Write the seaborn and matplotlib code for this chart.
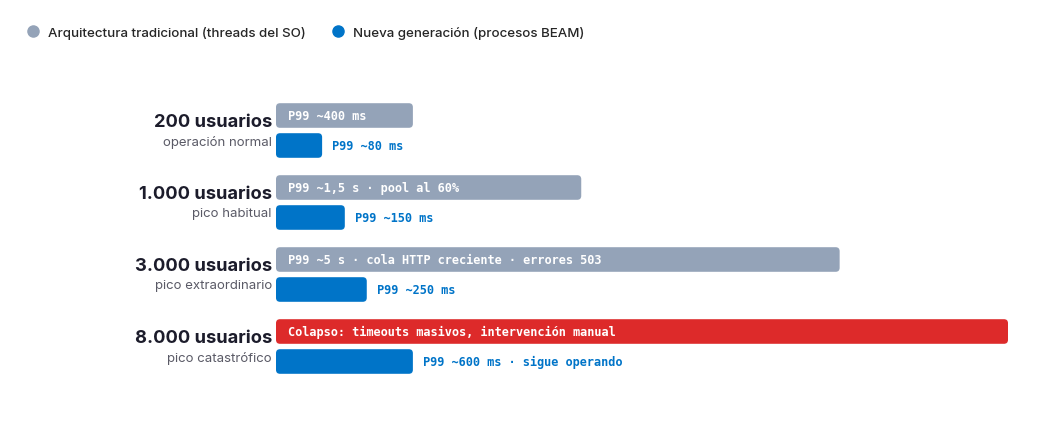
import seaborn as sns
import pandas as pd
import matplotlib.pyplot as plt
from matplotlib.patches import FancyBboxPatch
from matplotlib.lines import Line2D

# datos
escenarios = ["200 usuarios", "1.000 usuarios", "3.000 usuarios", "8.000 usuarios"]
subtitulos = ["operación normal", "pico habitual", "pico extraordinario", "pico catastrófico"]
ancho_tradicional = [18.7, 41.7, 77.0, 100.0]
ancho_beam = [6.3, 9.4, 12.4, 18.7]
etiquetas_tradicional = [
    "P99 ~400 ms",
    "P99 ~1,5 s · pool al 60%",
    "P99 ~5 s · cola HTTP creciente · errores 503",
    "Colapso: timeouts masivos, intervención manual",
]
etiquetas_beam = ["P99 ~80 ms", "P99 ~150 ms", "P99 ~250 ms", "P99 ~600 ms · sigue operando"]
series = ["Arquitectura tradicional (threads del SO)", "Nueva generación (procesos BEAM)"]
colapso = [False, False, False, True]

GRIS = "#94a3b8"
AZUL = "#0074c8"
ROJO = "#dd2a2a"
TEXTO = "#1c1c2b"
SUB = "#5a5a66"

sns.set_theme(style="white")
plt.rcParams['font.family'] = ['Inter', 'DejaVu Sans']

df = pd.DataFrame({
    "escenario": escenarios * 2,
    "ancho": ancho_tradicional + ancho_beam,
    "serie": [series[0]] * 4 + [series[1]] * 4,
})

fig = plt.figure(figsize=(10.58, 4.31), dpi=100)
ax = fig.add_axes([276 / 1058, 47.5 / 431, 732 / 1058, 288 / 431])
sns.barplot(data=df, y="escenario", x="ancho", hue="serie", palette=[GRIS, AZUL],
            orient="h", width=60 / 72, gap=0.18, legend=False, ax=ax, saturation=1,
            order=escenarios, hue_order=series)
ax.set_xlim(0, 100)
ax.set_ylim(3.5, -0.5)
ax.axis("off")

# barras redondeadas
px_x = 732 / 100
px_y = 72
radio = 4 / px_x
for p in list(ax.patches):
    x, y, w, h = p.get_x(), p.get_y(), p.get_width(), p.get_height()
    yc = y + h / 2
    fila = int(round(yc))
    arriba = yc < fila
    color = p.get_facecolor()
    if arriba and colapso[fila]:
        color = ROJO
    p.remove()
    ax.add_patch(FancyBboxPatch((x, y), w, h,
                                boxstyle=f"round,pad=0,rounding_size={radio}",
                                mutation_aspect=px_x / px_y,
                                facecolor=color, edgecolor="none"))
    if arriba:
        ax.annotate(etiquetas_tradicional[fila], xy=(x, yc), xytext=(12, 0),
                    textcoords="offset pixels", va="center", ha="left",
                    color="white", fontsize=8.6, fontweight="bold",
                    family="DejaVu Sans Mono")
    else:
        ax.annotate(etiquetas_beam[fila], xy=(x + w, yc), xytext=(10, 0),
                    textcoords="offset pixels", va="center", ha="left",
                    color=AZUL, fontsize=8.6, fontweight="bold",
                    family="DejaVu Sans Mono")

for i, (t, s) in enumerate(zip(escenarios, subtitulos)):
    ax.annotate(t, xy=(0, i), xytext=(-4, 9), textcoords="offset pixels",
                ha="right", va="center", fontsize=13.2, fontweight="bold",
                color=TEXTO, annotation_clip=False)
    ax.annotate(s, xy=(0, i), xytext=(-4, -11), textcoords="offset pixels",
                ha="right", va="center", fontsize=9.5, color=SUB,
                annotation_clip=False)

handles = [Line2D([], [], marker="o", ls="", color=c, markersize=8, label=l)
           for c, l in zip([GRIS, AZUL], series)]
fig.legend(handles=handles, loc="center left", bbox_to_anchor=(26 / 1058, 1 - 33.5 / 431),
           ncol=2, frameon=False, handlelength=1, handletextpad=0.62,
           columnspacing=1.95, borderaxespad=0, borderpad=0,
           prop={"family": ["Inter", "DejaVu Sans"], "size": 9.6, "weight": 500})

fig.savefig("out.png", dpi=100)
